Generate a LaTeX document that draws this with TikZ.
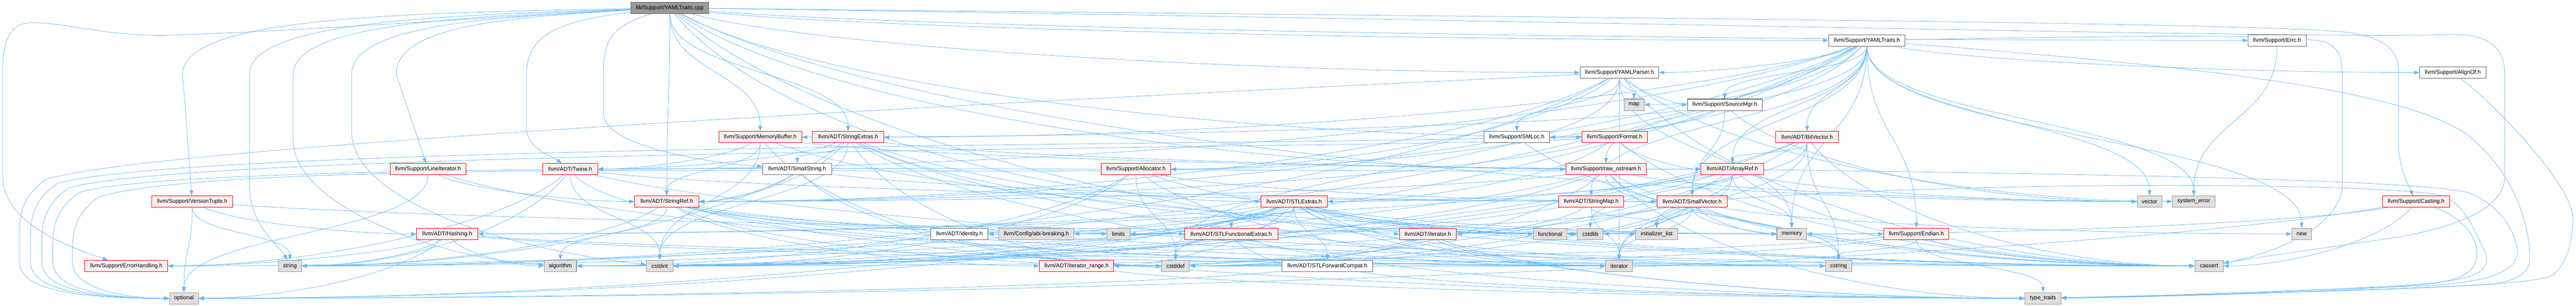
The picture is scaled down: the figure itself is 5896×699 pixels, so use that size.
\documentclass[tikz,border=0pt]{standalone}
\usepackage{fontspec}
\setmainfont{Liberation Sans}
\usetikzlibrary{arrows.meta}
\pgfdeclarelayer{bg}
\pgfsetlayers{bg,main}
\definecolor{edgec}{HTML}{63B8FF}
\definecolor{redf}{HTML}{FFF0F0}
\definecolor{grayf}{HTML}{E0E0E0}
\definecolor{grayb}{HTML}{999999}
\definecolor{darkb}{HTML}{666666}
\definecolor{rootf}{HTML}{999999}
\tikzset{
  nd/.style={draw, inner sep=0pt, minimum height=26pt, line width=1.2pt, font=\fontsize{12.9}{14}\selectfont},
  rootn/.style={nd, fill=rootf, draw=darkb},
  redn/.style={nd, fill=redf, draw=red},
  grayn/.style={nd, fill=grayf, draw=grayb},
  whiten/.style={nd, fill=white, draw=darkb},
  edg/.style={draw=edgec, line width=0.9pt, -{Triangle[length=12pt,width=8.5pt]}}
}
\newdimen\lkxa \newdimen\lkya \newdimen\lkxb \newdimen\lkyb
\newcommand\lnk[2]{%
  \pgfextractx{\lkxa}{\pgfpointanchor{#1}{center}}%
  \pgfextracty{\lkya}{\pgfpointanchor{#1}{center}}%
  \pgfextractx{\lkxb}{\pgfpointanchor{#2}{center}}%
  \pgfextracty{\lkyb}{\pgfpointanchor{#2}{center}}%
  \pgfmathsetmacro\lkdx{\lkxb-\lkxa}%
  \pgfmathsetmacro\lkdy{\lkyb-\lkya}%
  \pgfmathtruncatemacro\lkside{(abs(\lkdx)>2.5*abs(\lkdy))?1:0}%
  \ifnum\lkside=1
    \pgfmathsetmacro\lkua{0.15*\lkdx}%
    \pgfmathsetmacro\lkva{0.6*\lkdy}%
    \pgfmathsetmacro\lkub{-0.4*\lkdx}%
    \draw[edg] (#1) .. controls +(\lkua pt,\lkva pt) and +(\lkub pt,0pt) .. (#2);%
  \else
    \pgfmathsetmacro\lkva{0.5*\lkdy}%
    \pgfmathsetmacro\lkvb{-0.5*\lkdy}%
    \draw[edg] (#1) .. controls +(0pt,\lkva pt) and +(0pt,\lkvb pt) .. (#2);%
  \fi}
% edge that loops round the left border into "optional"
\newcommand\leftopt[5]{%
  \draw[edg] (#1) .. controls (#4,#5) and (#2+350,#3-150) .. (#2+60,#3-60)
    .. controls (#2+5,#3-20) and (#2,#3+20) .. (#2,#3+60) -- (#2,600)
    .. controls (#2,660) and (#2+120,682) .. (optional);}
\begin{document}
\begin{tikzpicture}[x=1pt,y=-1pt]
\useasboundingbox (0,0) rectangle (5896,699);
% row 0
\node[rootn, minimum width=179pt] (cpp) at (1533,18) {lib/Support/YAMLTraits.cpp};
% row 1
\node[whiten, minimum width=175pt] (yt) at (4273,92.3) {llvm/Support/YAMLTraits.h};
\node[whiten, minimum width=133pt] (errc) at (5212,92.3) {llvm/Support/Errc.h};
% row 2
\node[whiten, minimum width=180pt] (yp) at (3706.6,165.8) {llvm/Support/YAMLParser.h};
\node[whiten, minimum width=152pt] (alignof) at (5614,165.8) {llvm/Support/AlignOf.h};
% row 3
\node[grayn, minimum width=46pt] (map) at (3740,239.4) {map};
\node[whiten, minimum width=171pt] (smgr) at (3947.7,239.4) {llvm/Support/SourceMgr.h};
% row 4
\node[redn, minimum width=190pt] (membuf) at (1740,313.4) {llvm/Support/MemoryBuffer.h};
\node[redn, minimum width=163pt] (strext) at (1941,313.4) {llvm/ADT/StringExtras.h};
\node[whiten, minimum width=150pt] (smloc) at (3471.7,313.4) {llvm/Support/SMLoc.h};
\node[redn, minimum width=150pt] (format) at (3695.5,313.4) {llvm/Support/Format.h};
\node[redn, minimum width=144pt] (bitvec) at (4136,313.4) {llvm/ADT/BitVector.h};
% row 5
\node[redn, minimum width=173pt] (lineit) at (979.5,386.5) {llvm/Support/LineIterator.h};
\node[redn, minimum width=126pt] (twine) at (1305,386.5) {llvm/ADT/Twine.h};
\node[whiten, minimum width=158pt] (smallstr) at (1824.6,386.5) {llvm/ADT/SmallString.h};
\node[redn, minimum width=159pt] (alloc) at (2600,386.5) {llvm/Support/Allocator.h};
\node[redn, minimum width=184pt] (rawos) at (3675.7,386.5) {llvm/Support/raw\_ostream.h};
\node[redn, minimum width=143pt] (arrayref) at (3965,386.5) {llvm/ADT/ArrayRef.h};
% row 6
\node[redn, minimum width=185pt] (vt) at (440,460.5) {llvm/Support/VersionTuple.h};
\node[redn, minimum width=147pt] (strref) at (1526,460.5) {llvm/ADT/StringRef.h};
\node[redn, minimum width=152pt] (stlext) at (2962,460.5) {llvm/ADT/STLExtras.h};
\node[redn, minimum width=149pt] (strmap) at (3642,460.5) {llvm/ADT/StringMap.h};
\node[redn, minimum width=161pt] (smallvec) at (3873,460.5) {llvm/ADT/SmallVector.h};
\node[grayn, minimum width=57pt] (vector) at (4920,460.5) {vector};
\node[grayn, minimum width=97pt] (syserr) at (5021,460.5) {system\_error};
\node[redn, minimum width=154pt] (casting) at (5530,460.5) {llvm/Support/Casting.h};
% row 7
\node[redn, minimum width=140pt] (hashing) at (1023.6,534.5) {llvm/ADT/Hashing.h};
\node[whiten, minimum width=131pt] (identity) at (2196,534.5) {llvm/ADT/identity.h};
\node[grayn, minimum width=172pt] (abi) at (2372,534.5) {llvm/Config/abi-breaking.h};
\node[grayn, minimum width=52pt] (limits) at (2560,534.5) {limits};
\node[redn, minimum width=213pt] (stlfunc) at (2818,534.5) {llvm/ADT/STLFunctionalExtras.h};
\node[redn, minimum width=129pt] (iterh) at (3268,534.5) {llvm/ADT/iterator.h};
\node[grayn, minimum width=76pt] (functional) at (3548,534.5) {functional};
\node[grayn, minimum width=59pt] (cstdlib) at (3640,534.5) {cstdlib};
\node[grayn, minimum width=96pt] (initlist) at (3791.7,534.5) {initializer\_list};
\node[grayn, minimum width=68pt] (memory) at (4101,534.5) {memory};
\node[redn, minimum width=149pt] (endian) at (4386,534.5) {llvm/Support/Endian.h};
\node[grayn, minimum width=45pt] (new) at (5268,534.5) {new};
% row 8
\node[redn, minimum width=189pt] (errh) at (289,607.7) {llvm/Support/ErrorHandling.h};
\node[grayn, minimum width=53pt] (string) at (663.6,607.7) {string};
\node[grayn, minimum width=74pt] (algorithm) at (1282.5,607.7) {algorithm};
\node[grayn, minimum width=61pt] (cstdint) at (1510,607.7) {cstdint};
\node[redn, minimum width=169pt] (iterrange) at (2464,607.7) {llvm/ADT/iterator\_range.h};
\node[grayn, minimum width=64pt] (cstddef) at (2690.7,607.7) {cstddef};
\node[whiten, minimum width=208pt] (stlfwd) at (3038,607.7) {llvm/ADT/STLForwardCompat.h};
\node[grayn, minimum width=61pt] (iterator) at (3706,607.7) {iterator};
\node[grayn, minimum width=60pt] (cstring) at (4208,607.7) {cstring};
\node[grayn, minimum width=65pt] (cassert) at (5056,607.7) {cassert};
% row 9
\node[grayn, minimum width=66pt] (optional) at (421,681.7) {optional};
\node[grayn, minimum width=82pt] (typetraits) at (4676,681.7) {type\_traits};

\begin{pgfonlayer}{bg}
\fill[white] (0,0) rectangle (5896,699);
% ---- routed edges of the root going left
\draw[edg] (cpp) .. controls (1100,40) and (700,70) .. (400,80) .. controls (250,86) and (150,50) .. (70,52) .. controls (20,54) and (6,100) .. (6,160) -- (6,400) .. controls (6,480) and (80,540) .. (errh);
\draw[edg] (cpp) .. controls (900,30) and (418,40) .. (418,170) -- (vt);
\draw[edg] (cpp) .. controls (1000,35) and (571,50) .. (571,170) -- (571,420) .. controls (571,520) and (640,560) .. (string);
\draw[edg] (cpp) .. controls (1050,38) and (671,55) .. (671,170) -- (671,320) .. controls (671,470) and (1000,590) .. (algorithm);
\draw[edg] (cpp) .. controls (1100,40) and (805,60) .. (805,170) -- (805,300) .. controls (805,470) and (1200,575) .. (cstdint);
\draw[edg] (cpp) .. controls (1150,40) and (907,60) .. (907,170) -- (lineit);
\draw[edg] (cpp) .. controls (1300,45) and (1205,70) .. (1205,170) -- (1205,290) .. controls (1205,340) and (1260,355) .. (twine);
\draw[edg] (cpp) .. controls (1400,60) and (1381,90) .. (1381,170) -- (1381,260) .. controls (1381,330) and (1600,370) .. (smallstr);
% ---- routed edges on the right border
\draw[edg] (cpp) .. controls (3500,40) and (5200,50) .. (5380,75) .. controls (5470,90) and (5490,120) .. (5490,170) -- (5490,330) .. controls (5490,380) and (5510,420) .. (casting);
\draw[edg] (cpp) .. controls (3500,45) and (5300,90) .. (5600,79) .. controls (5700,76) and (5733,110) .. (5733,170) -- (5733,400) .. controls (5733,470) and (5650,510) .. (5500,540) .. controls (5300,570) and (5150,590) .. (cassert);
\draw[edg] (yt) .. controls (4700,85) and (5200,75) .. (5320,95) .. controls (5355,110) and (5361,130) .. (5361,180) -- (5361,420) .. controls (5361,520) and (5200,580) .. (cassert);
\draw[edg] (alignof) .. controls (5700,230) and (5889,420) .. (5889,500) .. controls (5889,560) and (5870,610) .. (5840,630) .. controls (5780,660) and (5200,668) .. (typetraits);
\draw[edg] (yt) .. controls (5000,150) and (5500,200) .. (5650,310) .. controls (5760,400) and (5790,520) .. (5790,590) .. controls (5790,620) and (5770,640) .. (5700,650) .. controls (5400,665) and (5100,672) .. (typetraits);
\draw[edg] (casting) .. controls (5620,490) and (5670,530) .. (5669,580) .. controls (5668,620) and (5640,640) .. (5550,650) .. controls (5300,670) and (5000,676) .. (typetraits);
\draw[edg] (arrayref) .. controls (4500,395) and (5500,405) .. (5650,440) .. controls (5700,460) and (5745,500) .. (5760,560) .. controls (5775,620) and (5700,650) .. (5500,655) .. controls (5200,665) and (5000,675) .. (typetraits);
\draw[edg] (smallvec) .. controls (4600,410) and (5450,420) .. (5580,445) .. controls (5640,460) and (5660,520) .. (5690,580) .. controls (5700,630) and (5650,645) .. (5450,655) .. controls (5200,668) and (5000,678) .. (typetraits);
% ---- edges into "optional" round the left border
\leftopt{yp}{45}{470}{3000}{200}
\leftopt{smloc}{70}{480}{3000}{330}
\leftopt{format}{96}{490}{3200}{340}
\leftopt{rawos}{121}{500}{3200}{400}
\leftopt{alloc}{166}{510}{2200}{400}
% ---- all other edges
\foreach \a/\b in {
 cpp/yt, cpp/stlext, cpp/strext, cpp/strref,
 cpp/errc, cpp/format, cpp/membuf, cpp/yp, cpp/rawos,
 cpp/cstring, cpp/vector,
 yt/arrayref, yt/bitvec, yt/smallvec, yt/strext, yt/strmap, yt/strref, yt/twine,
 yt/alignof, yt/alloc, yt/endian, yt/smloc, yt/smgr, yt/yp, yt/rawos,
 yt/map, yt/memory, yt/new, yt/optional, yt/string, yt/syserr, yt/vector,
 yp/strref, yp/alloc, yp/smloc, yp/smgr, yp/cassert, yp/cstddef, yp/iterator,
 yp/map, yp/memory, yp/string, yp/syserr,
 smgr/smallvec, smgr/membuf, smgr/smloc, smgr/vector,
 smloc/cassert,
 membuf/arrayref, membuf/strref, membuf/twine, membuf/cstddef, membuf/cstdint, membuf/memory,
 strext/arrayref, strext/smallstr, strext/strref, strext/twine, strext/cassert,
 strext/cstddef, strext/cstdint, strext/cstdlib, strext/cstring, strext/iterator, strext/string,
 format/arrayref, format/stlext, format/strref, format/cassert,
 bitvec/arrayref, bitvec/iterrange, bitvec/algorithm, bitvec/cassert, bitvec/cstdint,
 bitvec/cstdlib, bitvec/cstring, bitvec/iterator,
 lineit/strref, lineit/iterator, lineit/optional,
 twine/smallvec, twine/strref, twine/errh, twine/cassert, twine/cstdint, twine/string,
 smallstr/smallvec, smallstr/strref, smallstr/cstddef,
 alloc/smallvec, alloc/algorithm, alloc/cassert, alloc/cstddef, alloc/cstdint,
 alloc/iterator,
 rawos/smallvec, rawos/strref, rawos/cassert, rawos/cstddef, rawos/cstdint, rawos/cstring,
 rawos/string, rawos/syserr, rawos/typetraits,
 arrayref/hashing, arrayref/smallvec, arrayref/stlext, arrayref/algorithm, arrayref/cassert,
 arrayref/cstddef, arrayref/initlist, arrayref/iterator, arrayref/memory,
 arrayref/vector,
 vt/hashing, vt/endian, vt/optional, vt/string,
 strref/stlfunc, strref/iterrange, strref/algorithm, strref/cassert, strref/cstddef,
 strref/cstring, strref/iterator, strref/limits, strref/string, strref/typetraits,
 stlext/hashing, stlext/stlfwd, stlext/stlfunc, stlext/iterh, stlext/iterrange, stlext/abi,
 stlext/errh, stlext/algorithm, stlext/cassert, stlext/cstddef, stlext/cstdint,
 stlext/cstdlib, stlext/functional, stlext/initlist, stlext/iterator, stlext/limits,
 stlext/memory, stlext/optional, stlext/typetraits, stlext/identity,
 strmap/iterh, strmap/initlist, strmap/iterator,
 smallvec/algorithm, smallvec/cassert, smallvec/cstddef, smallvec/cstdlib, smallvec/cstring,
 smallvec/functional, smallvec/initlist, smallvec/iterator, smallvec/limits, smallvec/memory,
 smallvec/new,
 casting/cassert, casting/memory, casting/optional,
 hashing/errh, hashing/algorithm, hashing/cassert, hashing/cstring, hashing/optional, hashing/string,
 stlfunc/stlfwd, stlfunc/cstdint, stlfunc/typetraits,
 iterh/iterrange, iterh/cstddef, iterh/iterator, iterh/typetraits,
 endian/cassert, endian/cstddef, endian/cstdint, endian/cstring, endian/typetraits,
 stlfwd/optional, stlfwd/typetraits,
 iterrange/iterator, iterrange/typetraits,
 errc/syserr}
 {\lnk{\a}{\b}}
\end{pgfonlayer}
\end{tikzpicture}
\end{document}
